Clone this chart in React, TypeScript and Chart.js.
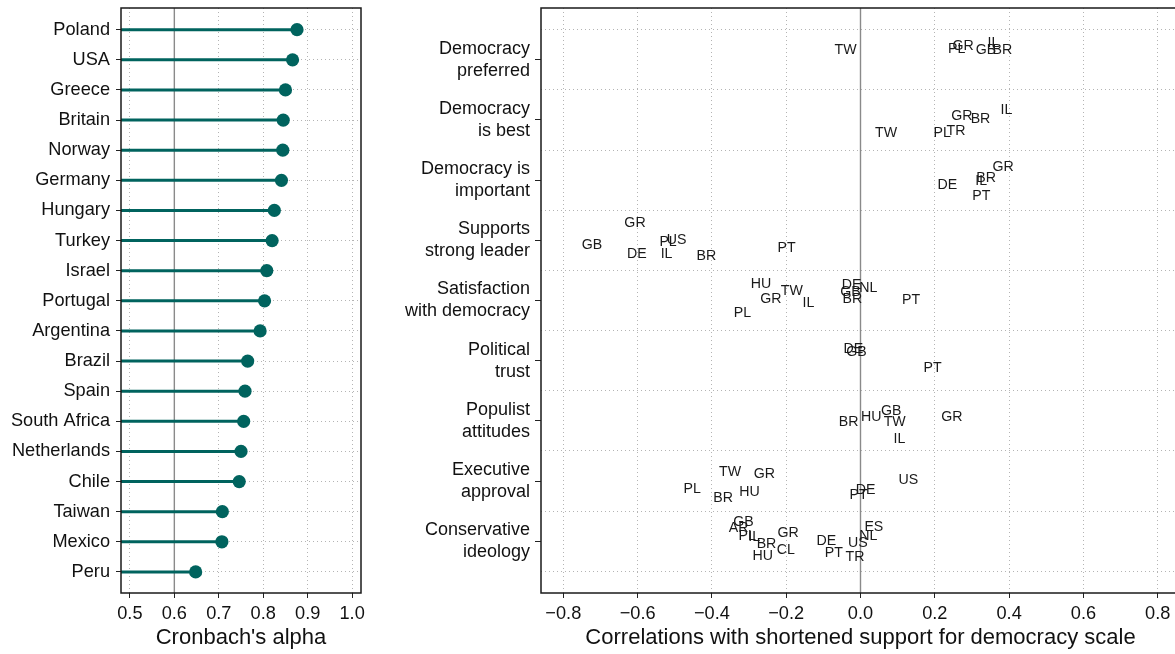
import React, { useEffect, useRef } from 'react';
import { Chart, registerables } from 'chart.js';

Chart.register(...registerables);

// ---------- Left panel data ----------
const countries = ['Poland', 'USA', 'Greece', 'Britain', 'Norway', 'Germany', 'Hungary', 'Turkey', 'Israel', 'Portugal', 'Argentina', 'Brazil', 'Spain', 'South Africa', 'Netherlands', 'Chile', 'Taiwan', 'Mexico', 'Peru'];
const alphas = [0.876, 0.866, 0.850, 0.845, 0.844, 0.841, 0.825, 0.820, 0.808, 0.803, 0.793, 0.765, 0.759, 0.756, 0.750, 0.746, 0.708, 0.707, 0.648];
const alphaTicks = [0.5, 0.6, 0.7, 0.8, 0.9, 1.0];
const alphaMin = 0.48;
const alphaMax = 1.02;
const alphaRef = 0.6;

// ---------- Right panel data ----------
const measureNames = [
  ['Democracy', 'preferred'],
  ['Democracy', 'is best'],
  ['Democracy is', 'important'],
  ['Supports', 'strong leader'],
  ['Satisfaction', 'with democracy'],
  ['Political', 'trust'],
  ['Populist', 'attitudes'],
  ['Executive', 'approval'],
  ['Conservative', 'ideology'],
];
const corrTicks = [-0.8, -0.6, -0.4, -0.2, 0, 0.2, 0.4, 0.6, 0.8];

const prefCodes = ['TW', 'PL', 'GR', 'GB', 'IL', 'BR'];
const prefCorr = [-0.040, 0.259, 0.276, 0.338, 0.358, 0.382];
const prefJit = [-0.166, -0.178, -0.221, -0.166, -0.277, -0.154];

const bestCodes = ['IL', 'GR', 'BR', 'TW', 'PL', 'TR'];
const bestCorr = [0.393, 0.273, 0.323, 0.069, 0.220, 0.257];
const bestJit = [-0.159, -0.059, -0.016, 0.217, 0.217, 0.19];

const impCodes = ['GR', 'BR', 'IL', 'DE', 'PT'];
const impCorr = [0.384, 0.338, 0.325, 0.234, 0.325];
const impJit = [-0.212, -0.037, 0.02, 0.086, 0.269];

const leaderCodes = ['GR', 'GB', 'PL', 'US', 'DE', 'IL', 'BR', 'PT'];
const leaderCorr = [-0.607, -0.723, -0.518, -0.495, -0.602, -0.522, -0.415, -0.199];
const leaderJit = [-0.278, 0.071, 0.032, -0.012, 0.225, 0.225, 0.265, 0.125];

const satisCodes = ['HU', 'TW', 'GR', 'IL', 'PL', 'DE', 'NL', 'GB', 'BR', 'PT'];
const satisCorr = [-0.268, -0.185, -0.241, -0.140, -0.318, -0.024, 0.021, -0.027, -0.022, 0.136];
const satisJit = [-0.266, -0.154, -0.017, 0.05, 0.216, -0.249, -0.199, -0.133, -0.017, -0.005];

const trustCodes = ['DE', 'GB', 'PT'];
const trustCorr = [-0.019, -0.011, 0.194];
const trustJit = [-0.198, -0.142, 0.117];

const popCodes = ['BR', 'HU', 'GB', 'TW', 'IL', 'GR'];
const popCorr = [-0.032, 0.029, 0.083, 0.092, 0.105, 0.246];
const popJit = [0.02, -0.07, -0.163, 0.02, 0.295, -0.063];

const execCodes = ['TW', 'GR', 'PL', 'BR', 'HU', 'DE', 'PT', 'US'];
const execCorr = [-0.351, -0.259, -0.453, -0.370, -0.299, 0.014, -0.005, 0.129];
const execJit = [-0.15, -0.112, 0.137, 0.286, 0.18, 0.154, 0.232, -0.012];

const consCodes = ['GB', 'AR', 'PL', 'IL', 'BR', 'GR', 'HU', 'CL', 'DE', 'PT', 'US', 'TR', 'NL', 'ES'];
const consCorr = [-0.315, -0.328, -0.305, -0.286, -0.253, -0.195, -0.263, -0.201, -0.092, -0.072, -0.007, -0.015, 0.021, 0.036];
const consJit = [-0.31, -0.216, -0.088, -0.066, 0.05, -0.133, 0.254, 0.149, 0.005, 0.204, 0.038, 0.27, -0.088, -0.237];

const measureCodes = [prefCodes, bestCodes, impCodes, leaderCodes, satisCodes, trustCodes, popCodes, execCodes, consCodes];
const measureCorr = [prefCorr, bestCorr, impCorr, leaderCorr, satisCorr, trustCorr, popCorr, execCorr, consCorr];
const measureJit = [prefJit, bestJit, impJit, leaderJit, satisJit, trustJit, popJit, execJit, consJit];

// ---------- Styles ----------
const FONT = "'Liberation Sans', Arial, Helvetica, sans-serif";
const TEAL = '#00635E';
const GRID = '#b4b4b4';
const TEXT = '#111111';
const CLEAR = 'rgba(0,0,0,0)';

const boxPlugin = {
  id: 'boxPlugin',
  beforeDatasetsDraw(chart: any, _args: any, opts: any) {
    const { ctx, chartArea } = chart;
    const xs = chart.scales.x;
    ctx.save();
    if (opts && typeof opts.refValue === 'number') {
      const px = xs.getPixelForValue(opts.refValue);
      ctx.strokeStyle = '#8a8a8a';
      ctx.lineWidth = 1.4;
      ctx.beginPath();
      ctx.moveTo(px, chartArea.top);
      ctx.lineTo(px, chartArea.bottom);
      ctx.stroke();
    }
    ctx.restore();
  },
  afterDatasetsDraw(chart: any) {
    const { ctx, chartArea } = chart;
    ctx.save();
    ctx.strokeStyle = '#1a1a1a';
    ctx.lineWidth = 1.5;
    ctx.strokeRect(chartArea.left, chartArea.top, chartArea.right - chartArea.left, chartArea.bottom - chartArea.top);
    ctx.restore();
  },
};

const codeLabelPlugin = {
  id: 'codeLabels',
  afterDatasetsDraw(chart: any) {
    const ctx = chart.ctx;
    ctx.save();
    ctx.font = `14.2px ${FONT}`;
    ctx.fillStyle = '#1a1a1a';
    ctx.textAlign = 'center';
    ctx.textBaseline = 'middle';
    chart.data.datasets.forEach((ds: any, di: number) => {
      const meta = chart.getDatasetMeta(di);
      meta.data.forEach((el: any, i: number) => {
        ctx.fillText(ds.codes[i], el.x, el.y);
      });
    });
    ctx.restore();
  },
};

const fmtNum = (v: number) => (v < -1e-9 ? '\u2212' : '') + Math.abs(v).toFixed(1);

export default function App() {
  const leftRef = useRef<HTMLCanvasElement | null>(null);
  const rightRef = useRef<HTMLCanvasElement | null>(null);

  useEffect(() => {
    const tickFont = { family: FONT, size: 18.2, lineHeight: 1.2 };
    const titleFont = { family: FONT, size: 22, lineHeight: 1.2 };

    const left = new Chart(leftRef.current as HTMLCanvasElement, {
      type: 'bar',
      data: {
        datasets: [
          {
            type: 'bar',
            indexAxis: 'y',
            data: countries.map((_, i) => ({ x: [alphaMin, alphas[i]], y: i })),
            backgroundColor: TEAL,
            borderWidth: 0,
            barThickness: 2.4,
            order: 2,
          } as any,
          {
            type: 'line',
            data: countries.map((_, i) => ({ x: alphas[i], y: i })),
            showLine: false,
            pointRadius: 6.6,
            pointHoverRadius: 6.6,
            pointBackgroundColor: TEAL,
            pointBorderWidth: 0,
            order: 1,
          } as any,
        ],
      },
      options: {
        indexAxis: 'y',
        responsive: false,
        animation: false,
        events: [],
        layout: { padding: { left: 0, top: 8, right: 11, bottom: 0 } },
        plugins: {
          legend: { display: false },
          tooltip: { enabled: false },
          boxPlugin: { refValue: alphaRef },
        } as any,
        scales: {
          x: {
            type: 'linear',
            min: alphaMin,
            max: alphaMax,
            offset: false,
            afterBuildTicks: (s: any) => { s.ticks = alphaTicks.map((v) => ({ value: v })); },
            afterFit: (s: any) => { s.height = 61; s.paddingLeft = 0; s.paddingRight = 0; },
            ticks: { callback: (v: any) => Number(v).toFixed(1), font: tickFont, color: TEXT, padding: 5, maxRotation: 0, autoSkip: false },
            grid: { color: GRID, tickColor: '#222', tickLength: 5, lineWidth: 1, offset: false },
            border: { display: false, dash: [1, 3] },
            title: { display: true, text: "Cronbach's alpha", font: titleFont, color: TEXT, padding: { top: 0, bottom: 3 } },
          } as any,
          y: {
            type: 'linear',
            reverse: true,
            min: -0.72,
            max: 18.7,
            offset: false,
            afterBuildTicks: (s: any) => { s.ticks = countries.map((_, i) => ({ value: i })); },
            afterFit: (s: any) => { s.width = 121; s.paddingTop = 0; s.paddingBottom = 0; },
            ticks: { callback: (v: any) => countries[Math.round(Number(v))], font: tickFont, color: TEXT, padding: 6, autoSkip: false },
            grid: { color: GRID, tickColor: '#222', tickLength: 5, lineWidth: 1, offset: false },
            border: { display: false, dash: [1, 3] },
          } as any,
        },
      },
      plugins: [boxPlugin],
    });

    const yTickVals: number[] = [];
    for (let k = 0; k <= 9; k++) {
      yTickVals.push(k + 0.5);
      if (k < 9) yTickVals.push(k + 1);
    }

    const right = new Chart(rightRef.current as HTMLCanvasElement, {
      type: 'scatter',
      data: {
        datasets: measureCodes.map((codes, m) => ({
          data: codes.map((_, i) => ({ x: measureCorr[m][i], y: m + 1 + measureJit[m][i] })),
          codes,
          pointRadius: 0,
          pointHoverRadius: 0,
        })) as any,
      },
      options: {
        responsive: false,
        animation: false,
        events: [],
        layout: { padding: { left: 0, top: 8, right: 10, bottom: 0 } },
        plugins: {
          legend: { display: false },
          tooltip: { enabled: false },
          boxPlugin: { refValue: 0 },
        } as any,
        scales: {
          x: {
            type: 'linear',
            min: -0.86,
            max: 0.86,
            afterBuildTicks: (s: any) => { s.ticks = corrTicks.map((v) => ({ value: v })); },
            afterFit: (s: any) => { s.height = 61; s.paddingLeft = 0; s.paddingRight = 0; },
            ticks: { callback: (v: any) => fmtNum(Number(v)), font: tickFont, color: TEXT, padding: 5, maxRotation: 0, autoSkip: false },
            grid: { color: GRID, tickColor: '#222', tickLength: 5, lineWidth: 1 },
            border: { display: false, dash: [1, 3] },
            title: { display: true, text: 'Correlations with shortened support for democracy scale', font: titleFont, color: TEXT, padding: { top: 0, bottom: 3 } },
          } as any,
          y: {
            type: 'linear',
            reverse: true,
            min: 0.14,
            max: 9.86,
            afterBuildTicks: (s: any) => { s.ticks = yTickVals.map((v) => ({ value: v })); },
            afterFit: (s: any) => { s.width = 161; s.paddingTop = 0; s.paddingBottom = 0; },
            ticks: {
              callback: (v: any) => (Number.isInteger(Number(v)) ? measureNames[Number(v) - 1] : ''),
              font: { family: FONT, size: 18, lineHeight: 1.22 },
              color: TEXT,
              padding: 5,
              autoSkip: false,
            },
            grid: {
              color: (c: any) => (c.tick && Number.isInteger(c.tick.value) ? CLEAR : GRID),
              tickColor: (c: any) => (c.tick && Number.isInteger(c.tick.value) ? '#222' : CLEAR),
              tickLength: 6,
              lineWidth: 1,
            },
            border: { display: false, dash: [1, 3] },
          } as any,
        },
      },
      plugins: [boxPlugin, codeLabelPlugin],
    });

    return () => {
      left.destroy();
      right.destroy();
    };
  }, []);

  return (
    <div style={{ position: 'absolute', left: 0, top: 0, width: 1175, height: 654, overflow: 'hidden', background: '#ffffff' }}>
      <canvas ref={leftRef} width={372} height={654} style={{ position: 'absolute', left: 0, top: 0, width: 372, height: 654 }} />
      <canvas ref={rightRef} width={810} height={654} style={{ position: 'absolute', left: 380, top: 0, width: 810, height: 654 }} />
    </div>
  );
}
